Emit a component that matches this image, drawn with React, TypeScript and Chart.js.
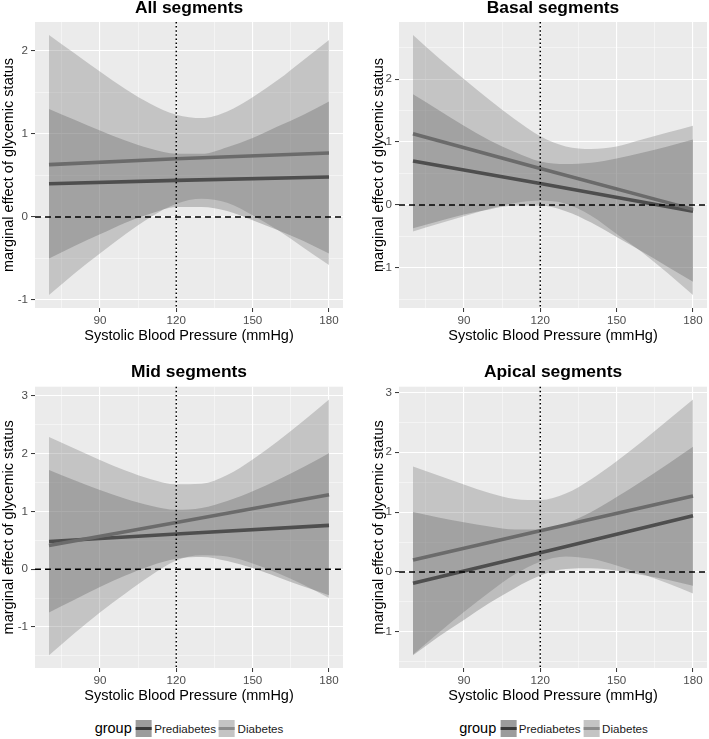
import React, { useEffect, useRef } from "react";
import { Chart, registerables } from "chart.js";

Chart.register(...registerables);

// ---------------- data ----------------
const XS = [70, 80, 90, 100, 110, 120, 130, 140, 150, 160, 170, 180];
const LINE_X = [70, 120, 180];

const X_TICKS = [75, 90, 105, 120, 135, 150, 165, 180];
const X_LABELS = [90, 120, 150, 180];
const Y_TICKS = [-1.5, -1, -0.5, 0, 0.5, 1, 1.5, 2, 2.5, 3];
const Y_LABELS = [-1, 0, 1, 2, 3];

const REF_X = 120;
const REF_Y = 0;

const GROUPS = ["Prediabetes", "Diabetes"];
const LEGEND_TITLE = "group";
const X_TITLE = "Systolic Blood Pressure (mmHg)";
const Y_TITLE = "marginal effect of glycemic status";
const TITLES = ["All segments", "Basal segments", "Mid segments", "Apical segments"];

// All segments
const allPreLine = [0.40, 0.44, 0.48];
const allDiaLine = [0.63, 0.70, 0.77];
const allPreUpper = [1.30, 1.17, 1.04, 0.92, 0.82, 0.76, 0.76, 0.84, 0.95, 1.09, 1.23, 1.39];
const allPreLower = [-0.50, -0.35, -0.21, -0.07, 0.04, 0.12, 0.12, 0.07, -0.04, -0.16, -0.29, -0.44];
const allDiaUpper = [2.19, 1.97, 1.75, 1.54, 1.36, 1.23, 1.19, 1.27, 1.44, 1.65, 1.89, 2.13];
const allDiaLower = [-0.94, -0.68, -0.44, -0.21, 0.00, 0.16, 0.22, 0.17, 0.02, -0.16, -0.37, -0.58];

// Basal segments
const basPreLine = [0.70, 0.34, -0.10];
const basDiaLine = [1.13, 0.58, -0.07];
const basPreUpper = [1.76, 1.51, 1.26, 1.03, 0.84, 0.69, 0.65, 0.67, 0.74, 0.83, 0.93, 1.04];
const basPreLower = [-0.37, -0.26, -0.15, -0.07, -0.01, -0.01, -0.10, -0.28, -0.51, -0.74, -0.98, -1.22];
const basDiaUpper = [2.70, 2.34, 2.00, 1.67, 1.36, 1.09, 0.93, 0.89, 0.93, 1.04, 1.15, 1.26];
const basDiaLower = [-0.42, -0.30, -0.18, -0.06, 0.03, 0.07, 0.02, -0.17, -0.46, -0.75, -1.08, -1.43];

// Mid segments
const midPreLine = [0.48, 0.61, 0.76];
const midDiaLine = [0.41, 0.81, 1.29];
const midPreUpper = [1.72, 1.54, 1.37, 1.22, 1.10, 1.03, 1.06, 1.18, 1.35, 1.55, 1.77, 2.01];
const midPreLower = [-0.75, -0.53, -0.31, -0.11, 0.06, 0.18, 0.21, 0.14, 0.02, -0.14, -0.30, -0.45];
const midDiaUpper = [2.29, 2.09, 1.89, 1.71, 1.56, 1.47, 1.48, 1.63, 1.90, 2.22, 2.57, 2.94];
const midDiaLower = [-1.49, -1.11, -0.75, -0.42, -0.11, 0.15, 0.24, 0.22, 0.10, -0.07, -0.27, -0.50];

// Apical segments
const apiPreLine = [-0.19, 0.32, 0.94];
const apiDiaLine = [0.20, 0.69, 1.27];
const apiPreUpper = [1.00, 0.91, 0.83, 0.76, 0.71, 0.71, 0.81, 1.00, 1.25, 1.52, 1.80, 2.09];
const apiPreLower = [-1.39, -1.08, -0.80, -0.52, -0.27, -0.06, 0.05, 0.06, 0.02, -0.05, -0.13, -0.23];
const apiDiaUpper = [1.76, 1.61, 1.46, 1.32, 1.22, 1.20, 1.31, 1.55, 1.85, 2.18, 2.53, 2.88];
const apiDiaLower = [-1.38, -1.02, -0.67, -0.34, -0.04, 0.17, 0.26, 0.22, 0.11, -0.03, -0.19, -0.36];

const PANELS = [
  { title: TITLES[0], preLine: allPreLine, diaLine: allDiaLine, preUpper: allPreUpper, preLower: allPreLower, diaUpper: allDiaUpper, diaLower: allDiaLower },
  { title: TITLES[1], preLine: basPreLine, diaLine: basDiaLine, preUpper: basPreUpper, preLower: basPreLower, diaUpper: basDiaUpper, diaLower: basDiaLower },
  { title: TITLES[2], preLine: midPreLine, diaLine: midDiaLine, preUpper: midPreUpper, preLower: midPreLower, diaUpper: midDiaUpper, diaLower: midDiaLower },
  { title: TITLES[3], preLine: apiPreLine, diaLine: apiDiaLine, preUpper: apiPreUpper, preLower: apiPreLower, diaUpper: apiDiaUpper, diaLower: apiDiaLower },
];

// ---------------- styles ----------------
const FONT = "'Liberation Sans', Arial, Helvetica, sans-serif";
const PANEL_BG = "#EBEBEB";
const PRE_LINE = "#4E4E4E";
const DIA_LINE = "#6B6B6B";
const PRE_FILL = "rgba(82,82,82,0.3)";
const DIA_FILL = "rgba(105,105,105,0.3)";
const TICK_TEXT = "#4D4D4D";

const BOXES = [
  { left: 0, top: 0, w: 354, h: 345, yW: 35, rightPad: 11, titleTop: 0, titleBottom: 4.6, xH: 37, xTitleBottom: 2.2, yTitlePad: 2 },
  { left: 354, top: 0, w: 355, h: 345, yW: 45, rightPad: 2, titleTop: 0, titleBottom: 4.6, xH: 37, xTitleBottom: 2.2, yTitlePad: 17.7 },
  { left: 0, top: 350, w: 354, h: 360, yW: 35, rightPad: 11, titleTop: 13.6, titleBottom: 5.7, xH: 42, xTitleBottom: 6.4, yTitlePad: 2 },
  { left: 354, top: 350, w: 355, h: 360, yW: 45, rightPad: 2, titleTop: 13.6, titleBottom: 5.7, xH: 42, xTitleBottom: 6.4, yTitlePad: 17.7 },
];

const bgPlugin = {
  id: "panelBg",
  beforeDraw(chart: any) {
    const { ctx, chartArea: a } = chart;
    ctx.save();
    ctx.fillStyle = PANEL_BG;
    ctx.fillRect(a.left, a.top, a.right - a.left, a.bottom - a.top);
    ctx.restore();
  },
};

const refPlugin = {
  id: "refLines",
  afterDatasetsDraw(chart: any) {
    const { ctx, chartArea: a, scales } = chart;
    const py = scales.y.getPixelForValue(REF_Y);
    const px = scales.x.getPixelForValue(REF_X);
    ctx.save();
    ctx.strokeStyle = "#000000";
    ctx.lineWidth = 1.5;
    ctx.setLineDash([6, 4]);
    ctx.beginPath();
    ctx.moveTo(a.left, py);
    ctx.lineTo(a.right, py);
    ctx.stroke();
    ctx.setLineDash([1.5, 2.6]);
    ctx.beginPath();
    ctx.moveTo(px, a.top);
    ctx.lineTo(px, a.bottom);
    ctx.stroke();
    ctx.restore();
  },
};

function pts(xs: number[], ys: number[]) {
  return xs.map((x, i) => ({ x, y: ys[i] }));
}

function Panel({ spec, box }: { spec: any; box: any }) {
  const ref = useRef<HTMLCanvasElement>(null);
  useEffect(() => {
    if (!ref.current) return;
    const all = [...spec.preUpper, ...spec.preLower, ...spec.diaUpper, ...spec.diaLower];
    const lo = Math.min(...all);
    const hi = Math.max(...all);
    const yPad = (hi - lo) * 0.05;
    const xlo = Math.min(...XS);
    const xhi = Math.max(...XS);
    const xPad = (xhi - xlo) * 0.05;

    const band = (data: number[], color: string, fill: any, order: number) => ({
      data: pts(XS, data),
      borderColor: "rgba(0,0,0,0)",
      borderWidth: 1,
      backgroundColor: color,
      pointRadius: 0,
      fill,
      cubicInterpolationMode: "monotone",
      order,
    });

    const gridColor = (isMajor: (v: number) => boolean) => ({
      color: (c: any) => (c.tick && isMajor(c.tick.value) ? "#FFFFFF" : "rgba(255,255,255,0.75)"),
      lineWidth: (c: any) => (c.tick && isMajor(c.tick.value) ? 1.1 : 0.6),
      tickColor: (c: any) => (c.tick && isMajor(c.tick.value) ? "#333333" : "rgba(0,0,0,0)"),
      tickLength: 4,
      tickWidth: 1,
      drawTicks: true,
    });

    const chart = new Chart(ref.current, {
      type: "line",
      data: {
        datasets: [
          { label: GROUPS[1], data: pts(LINE_X, spec.diaLine), borderColor: DIA_LINE, borderWidth: 3.6, pointRadius: 0, fill: false, order: 0 },
          { label: GROUPS[0], data: pts(LINE_X, spec.preLine), borderColor: PRE_LINE, borderWidth: 3.6, pointRadius: 0, fill: false, order: 1 },
          band(spec.preUpper, PRE_FILL, "+1", 2),
          band(spec.preLower, "rgba(0,0,0,0)", false, 3),
          band(spec.diaUpper, DIA_FILL, "+1", 4),
          band(spec.diaLower, "rgba(0,0,0,0)", false, 5),
        ] as any,
      },
      options: {
        responsive: false,
        animation: false,
        events: [],
        layout: { padding: { left: 0, right: box.rightPad, top: 0, bottom: 0 } },
        plugins: {
          legend: { display: false },
          tooltip: { enabled: false },
          title: {
            display: true,
            fullSize: false,
            text: spec.title,
            color: "#000000",
            font: { family: FONT, size: 17.4, weight: "bold", lineHeight: 1 },
            padding: { top: box.titleTop, bottom: box.titleBottom },
          },
        },
        scales: {
          x: {
            type: "linear",
            min: xlo - xPad,
            max: xhi + xPad,
            afterBuildTicks: (s: any) => {
              s.ticks = X_TICKS.filter((v) => v >= s.min && v <= s.max).map((v) => ({ value: v }));
            },
            afterFit: (s: any) => {
              s.height = box.xH;
            },
            grid: gridColor((v) => X_LABELS.includes(v)),
            border: { display: false },
            ticks: {
              autoSkip: false,
              maxRotation: 0,
              padding: 2,
              color: TICK_TEXT,
              font: { family: FONT, size: 11.6 },
              callback: (v: any) => (X_LABELS.includes(v) ? String(v) : ""),
            },
            title: {
              display: true,
              text: X_TITLE,
              color: "#000000",
              font: { family: FONT, size: 14.5, lineHeight: 1 },
              padding: { top: 0, bottom: box.xTitleBottom },
            },
          },
          y: {
            type: "linear",
            min: lo - yPad,
            max: hi + yPad,
            afterBuildTicks: (s: any) => {
              s.ticks = Y_TICKS.filter((v) => v >= s.min && v <= s.max).map((v) => ({ value: v }));
            },
            afterFit: (s: any) => {
              s.width = box.yW;
            },
            grid: gridColor((v) => Y_LABELS.includes(v)),
            border: { display: false },
            ticks: {
              autoSkip: false,
              padding: 3,
              color: TICK_TEXT,
              font: { family: FONT, size: 11.6 },
              callback: (v: any) => (Y_LABELS.includes(v) ? String(v) : ""),
            },
            title: {
              display: true,
              text: Y_TITLE,
              color: "#000000",
              font: { family: FONT, size: 14.5, lineHeight: 1 },
              padding: { top: box.yTitlePad, bottom: 0 },
            },
          },
        },
      } as any,
      plugins: [bgPlugin, refPlugin],
    });
    return () => chart.destroy();
  }, []);
  return (
    <canvas
      ref={ref}
      width={box.w}
      height={box.h}
      style={{ position: "absolute", left: box.left, top: box.top, width: box.w, height: box.h, display: "block" }}
    />
  );
}

function Key({ fill, line }: { fill: string; line: string }) {
  return (
    <span style={{ position: "relative", display: "inline-block", width: 16, height: 17, background: fill }}>
      <span style={{ position: "absolute", left: 0, right: 0, top: 7.5, height: 3, background: line }} />
    </span>
  );
}

function Legend({ center }: { center: number }) {
  return (
    <div
      style={{
        position: "absolute",
        left: center,
        top: 719,
        transform: "translateX(-50%)",
        display: "flex",
        alignItems: "center",
        whiteSpace: "nowrap",
        fontFamily: FONT,
        height: 18,
        color: "#000",
      }}
    >
      <span style={{ fontSize: 14.5, marginRight: 4 }}>{LEGEND_TITLE}</span>
      <Key fill="#9C9C9C" line="#3A3A3A" />
      <span style={{ fontSize: 11.6, marginLeft: 2.5, marginRight: 3, color: "#1A1A1A" }}>{GROUPS[0]}</span>
      <Key fill="#C4C4C4" line="#8C8C8C" />
      <span style={{ fontSize: 11.6, marginLeft: 2.5, color: "#1A1A1A" }}>{GROUPS[1]}</span>
    </div>
  );
}

export default function App() {
  return (
    <div
      style={{
        position: "absolute",
        left: 0,
        top: 0,
        width: 709,
        height: 739,
        overflow: "hidden",
        background: "#FFFFFF",
      }}
    >
      {PANELS.map((p, i) => (
        <Panel key={i} spec={p} box={BOXES[i]} />
      ))}
      <Legend center={189} />
      <Legend center={553.5} />
    </div>
  );
}
